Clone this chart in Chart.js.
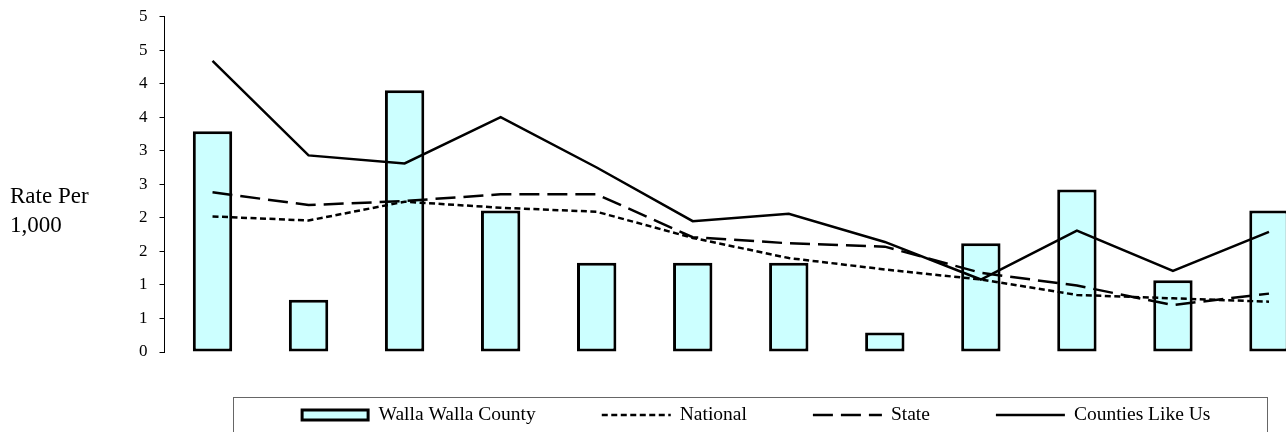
<!DOCTYPE html>
<html lang="en">
<head>
    <meta charset="UTF-8">
    <title>Rate Per 1,000</title>
    <script src="https://cdn.jsdelivr.net/npm/chart.js"></script>
    <style>
        body {
            margin: 0;
            overflow: hidden;
            background: #fff;
        }
        #myChart {
            display: block;
        }
    </style>
</head>
<body>
    <canvas id="myChart" width="1317" height="432"></canvas>

    <script>
        // values
        const categories = ['1', '2', '3', '4', '5', '6', '7', '8', '9', '10', '11', '12'];
        const wallaWalla = [3.29, 0.78, 3.90, 2.11, 1.33, 1.33, 1.33, 0.29, 1.62, 2.42, 1.07, 2.11];
        const national = [2.02, 1.96, 2.24, 2.15, 2.09, 1.70, 1.40, 1.23, 1.08, 0.85, 0.80, 0.75];
        const state = [2.38, 2.19, 2.25, 2.35, 2.35, 1.71, 1.62, 1.57, 1.18, 0.99, 0.70, 0.87];
        const countiesLikeUs = [4.34, 2.93, 2.81, 3.50, 2.75, 1.95, 2.06, 1.64, 1.08, 1.81, 1.21, 1.79];
        const yTickLabels = ['0', '1', '1', '2', '2', '3', '3', '4', '4', '5', '5'];
        const axisTitle = ['Rate Per', '1,000'];

        const serif = "'Liberation Serif', 'Times New Roman', serif";

        // horizontal axis title left of the y axis
        const sideTitle = {
            id: 'sideTitle',
            afterDraw(chart) {
                const ctx = chart.ctx;
                const mid = (chart.chartArea.top + chart.chartArea.bottom) / 2;
                ctx.save();
                ctx.font = '23px ' + serif;
                ctx.fillStyle = '#000';
                ctx.textAlign = 'left';
                ctx.textBaseline = 'middle';
                axisTitle.forEach((line, i) => {
                    ctx.fillText(line, 10, mid + 13 + i * 29);
                });
                ctx.restore();
            }
        };

        // boxed legend under the plot, like the spreadsheet one
        const boxLegend = {
            id: 'boxLegend',
            afterDraw(chart) {
                const ctx = chart.ctx;
                const boxLeft = 233.5, boxRight = 1267.5, boxTop = 397.5, boxBottom = 460;
                const rowY = 415;
                const swatchW = 69, gap = 9, spacing = 66;
                ctx.save();
                ctx.strokeStyle = '#666';
                ctx.lineWidth = 1;
                ctx.strokeRect(boxLeft, boxTop, boxRight - boxLeft, boxBottom - boxTop);

                ctx.font = '19.5px ' + serif;
                ctx.textBaseline = 'middle';
                ctx.textAlign = 'left';
                const sets = chart.data.datasets;
                const widths = sets.map(ds => swatchW + gap + ctx.measureText(ds.label).width);
                const total = widths.reduce((a, b) => a + b, 0) + spacing * (sets.length - 1);
                let x = (boxLeft + boxRight) / 2 + 5 - total / 2;

                sets.forEach((ds, i) => {
                    if (ds.type === 'bar') {
                        ctx.fillStyle = ds.backgroundColor;
                        ctx.fillRect(x + 1.5, rowY - 5, swatchW - 3, 10);
                        ctx.strokeStyle = ds.borderColor;
                        ctx.lineWidth = 3;
                        ctx.setLineDash([]);
                        ctx.strokeRect(x + 1.5, rowY - 5, swatchW - 3, 10);
                    } else {
                        ctx.strokeStyle = ds.borderColor;
                        ctx.lineWidth = ds.borderWidth;
                        ctx.setLineDash(ds.borderDash || []);
                        ctx.beginPath();
                        ctx.moveTo(x, rowY);
                        ctx.lineTo(x + swatchW, rowY);
                        ctx.stroke();
                    }
                    ctx.setLineDash([]);
                    ctx.fillStyle = '#000';
                    ctx.fillText(ds.label, x + swatchW + gap, rowY);
                    x += widths[i] + spacing;
                });
                ctx.restore();
            }
        };

        const ctx = document.getElementById('myChart').getContext('2d');
        new Chart(ctx, {
            data: {
                labels: categories,
                datasets: [
                    {
                        type: 'bar',
                        label: 'Walla Walla County',
                        data: wallaWalla,
                        backgroundColor: '#CCFFFF',
                        borderColor: '#000',
                        borderWidth: 3,
                        borderSkipped: false,
                        barPercentage: 0.41,
                        categoryPercentage: 1,
                        order: 1
                    },
                    {
                        type: 'line',
                        label: 'National',
                        data: national,
                        borderColor: '#000',
                        borderWidth: 2.5,
                        borderDash: [6, 3.5],
                        pointRadius: 0,
                        tension: 0,
                        order: 0
                    },
                    {
                        type: 'line',
                        label: 'State',
                        data: state,
                        borderColor: '#000',
                        borderWidth: 2.5,
                        borderDash: [20, 8],
                        pointRadius: 0,
                        tension: 0,
                        order: 0
                    },
                    {
                        type: 'line',
                        label: 'Counties Like Us',
                        data: countiesLikeUs,
                        borderColor: '#000',
                        borderWidth: 2.5,
                        pointRadius: 0,
                        tension: 0,
                        order: 0
                    }
                ]
            },
            options: {
                responsive: false,
                animation: false,
                layout: {
                    padding: { top: 16.5, bottom: 80, left: 0, right: 0 }
                },
                plugins: {
                    legend: { display: false },
                    tooltip: { enabled: false }
                },
                scales: {
                    x: {
                        display: false,
                        offset: true
                    },
                    y: {
                        min: 0,
                        max: 5,
                        afterFit: scale => {
                            scale.width = 164.5;
                            scale.paddingTop = 0;
                            scale.paddingBottom = 0;
                        },
                        ticks: {
                            stepSize: 0.5,
                            padding: 12,
                            color: '#000',
                            font: { family: serif, size: 17 },
                            callback: (value, index) => yTickLabels[index]
                        },
                        grid: {
                            drawOnChartArea: false,
                            drawTicks: true,
                            tickLength: 5,
                            color: '#000'
                        },
                        border: { color: '#000', width: 1 }
                    }
                }
            },
            plugins: [sideTitle, boxLegend]
        });
    </script>
</body>
</html>
